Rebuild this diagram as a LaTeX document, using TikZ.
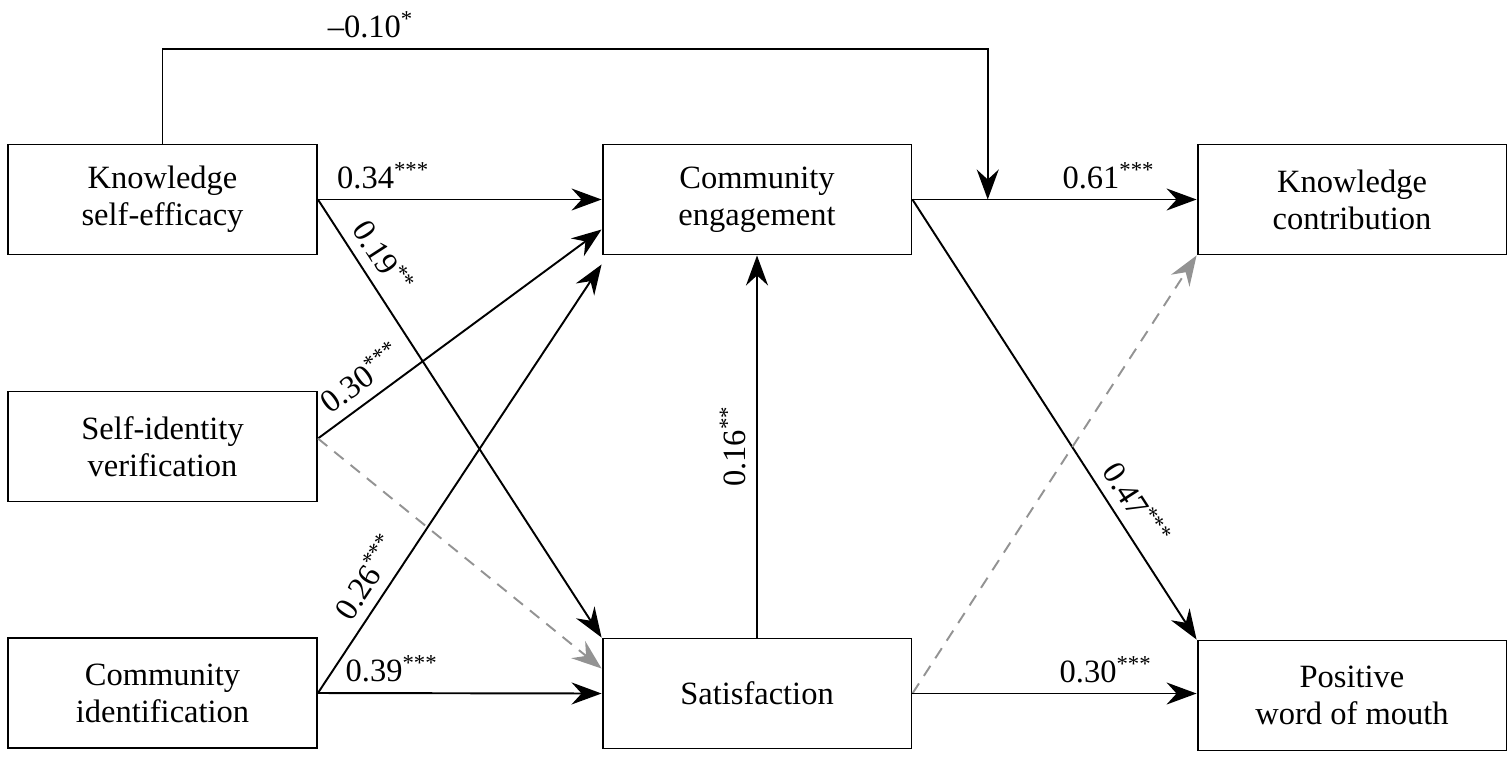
\documentclass[tikz,border=0pt]{standalone}
\usepackage{fontspec}
\setmainfont{Liberation Serif}
\newfontfamily\timesfont{Liberation Serif}
\usepackage{tikz}
\usetikzlibrary{arrows.meta,calc}

\newcommand\sig[1]{\textsuperscript{#1}}

\begin{document}
\begin{tikzpicture}[
        x=0.02cm, y=-0.02cm,
        font=\timesfont\fontsize{18.5pt}{21pt}\selectfont,
        box/.style={draw, line width=1.1pt, minimum width=6.18cm, minimum height=2.2cm, inner sep=0pt, align=center},
        conn/.style={draw, line width=1.1pt, -{Stealth[length=0.6cm, width=0.44cm, inset=0.2cm]}},
        nsconn/.style={conn, gray!85, dash pattern=on 0.24cm off 0.18cm},
        coef/.style={inner sep=0.2cm}
        ]
    \useasboundingbox (0,0) rectangle (1510,758);

    \node[box] (kse)  at (162.5,199.5) {Knowledge\\self-efficacy};
    \node[box] (siv)  at (162.5,446.5) {Self-identity\\verification};
    \node[box] (ci)   at (162.5,693)   {Community\\identification};
    \node[box] (ce)   at (757,199.5)   {Community\\engagement};
    \node[box] (sat)  at (757,693.5)   {Satisfaction};
    \node[box] (kc)   at (1352,199.5)  {Knowledge\\contribution};
    \node[box] (pwom) at (1352,695.5)  {Positive\\word of mouth};

    \coordinate (join) at ($(ce.east)!0.265!(kc.west)$);

    \draw[conn] (kse.east) -- node[coef, pos=0.23, above] {0.34\sig{***}} (ce.west);
    \draw[conn] (kse.east) -- node[coef, pos=0.16, above, sloped] {0.19\sig{**}} (sat.north west);
    \draw[conn] ([yshift=0.16cm]siv.east) -- node[coef, pos=0.2, above, sloped] {0.30\sig{***}} ([yshift=-0.6cm]ce.west);
    \draw[nsconn] ([yshift=0.16cm]siv.east) -- ([yshift=0.5cm]sat.west);
    \draw[conn] (ci.east) -- node[coef, pos=0.24, above, sloped] {0.26\sig{***}} ([yshift=-1.3cm]ce.west);
    \draw[conn] (ci.east) -- node[coef, pos=0.26, above] {0.39\sig{***}} (sat.west);
    \draw[conn] (sat.north) -- node[coef, pos=0.5, above, sloped] {0.16\sig{**}} (ce.south);
    \draw[conn] (ce.east) -- node[coef, pos=0.69, above] {0.61\sig{***}} (kc.west);
    \draw[conn] (ce.east) -- node[coef, pos=0.72, above, sloped] {0.47\sig{***}} (pwom.north west);
    \draw[nsconn] (sat.east) -- (kc.south west);
    \draw[conn] (sat.east) -- node[coef, pos=0.68, above] {0.30\sig{***}} (sat.east -| pwom.west);
    \draw[conn] (kse.north) -- ++(0,-95) -| node[coef, pos=0.126, above] {–0.10\sig{*}} (join);
\end{tikzpicture}
\end{document}
